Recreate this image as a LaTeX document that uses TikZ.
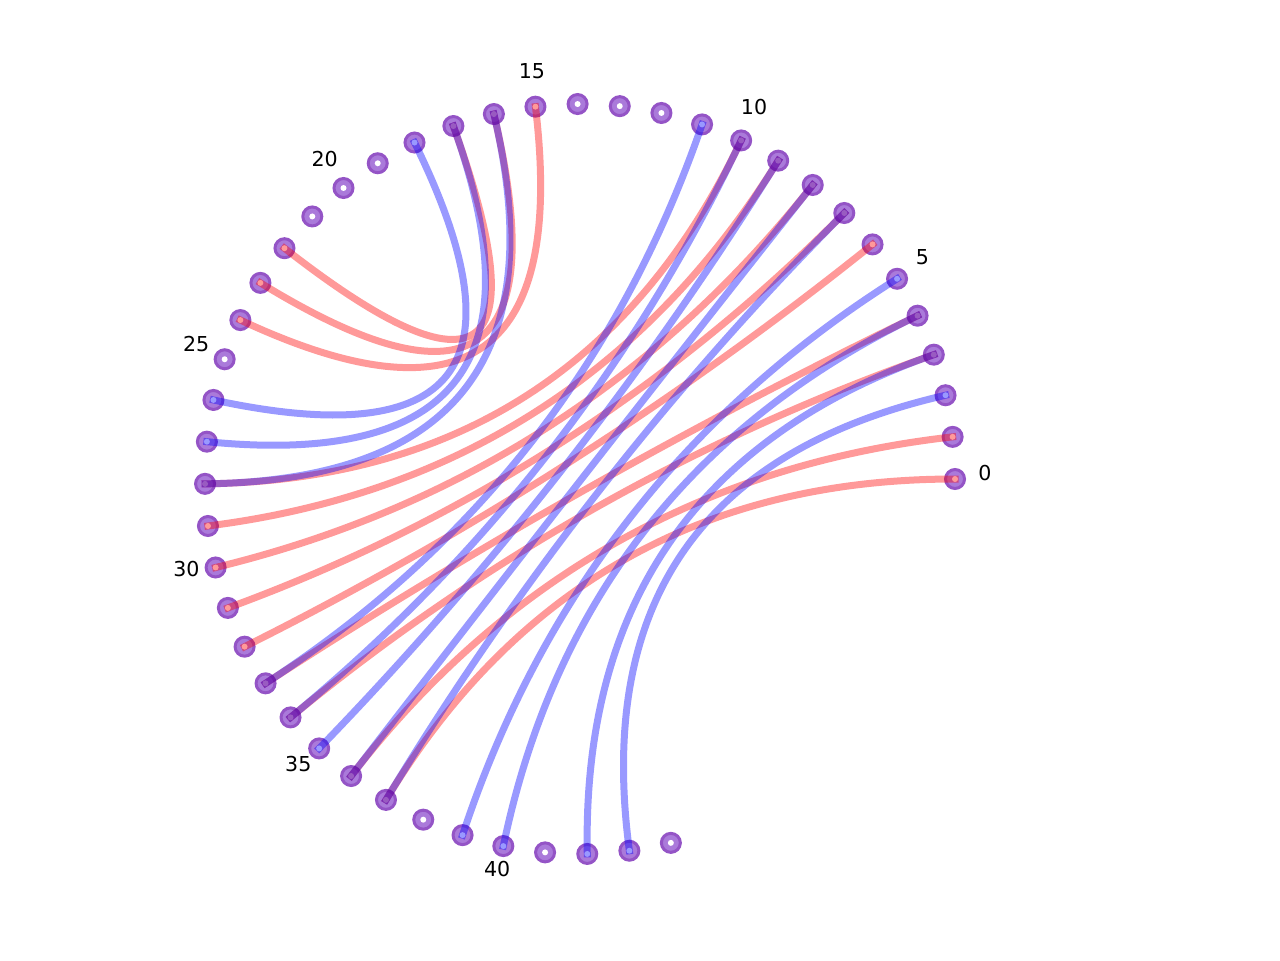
\documentclass[tikz,border=0pt]{standalone}
\usepackage{fontspec}
\setmainfont{DejaVu Sans}
\usepackage{xcolor}
\definecolor{mkring}{RGB}{148,84,198}
\definecolor{mkfill}{RGB}{170,122,218}
\definecolor{edgered}{RGB}{255,0,0}
\definecolor{edgeblue}{RGB}{0,0,255}
\usepackage{tikz}
\usetikzlibrary{calc}

\begin{document}
\begin{tikzpicture}[
  mk/.style={circle, draw=mkring, fill=mkfill, line width=0.03cm, minimum size=0.19cm, inner sep=0pt,
    path picture={\fill[white] (path picture bounding box.center) circle (0.03);}},
  redge/.style={draw=edgered, draw opacity=0.4, line width=0.07cm, line cap=rect},
  bedge/.style={draw=edgeblue, draw opacity=0.4, line width=0.07cm, line cap=rect},
  lbl/.style={font=\fontsize{5.85}{7}\selectfont, inner sep=0pt}
]
  \useasboundingbox (0,0) rectangle (12.8,9.6);
  \coordinate (ctr) at (5.80,4.81);

  \foreach \i in {0,...,44}
    \node[mk] (n\i) at ($(ctr)+(\i*6.455:3.75)$) {};
  \foreach \i in {0,5,...,40}
    \node[lbl] (l\i) at ($(ctr)+(\i*6.455:4.05)+(0,0.06)$) {\i};

  \foreach \a/\b in {0/37,1/36,3/34,4/33,6/32,7/31,8/30,9/29,10/28,15/24,16/23,17/22}
    \draw[redge] (n\a.center) .. controls ($(n\a.center)!0.6667!(ctr)$) and ($(n\b.center)!0.6667!(ctr)$) .. (n\b.center);
  \foreach \a/\b in {2/43,3/42,4/40,5/39,7/37,8/36,9/35,10/34,11/33,16/28,17/27,18/26}
    \draw[bedge] (n\a.center) .. controls ($(n\a.center)!0.6667!(ctr)$) and ($(n\b.center)!0.6667!(ctr)$) .. (n\b.center);
\end{tikzpicture}
\end{document}
